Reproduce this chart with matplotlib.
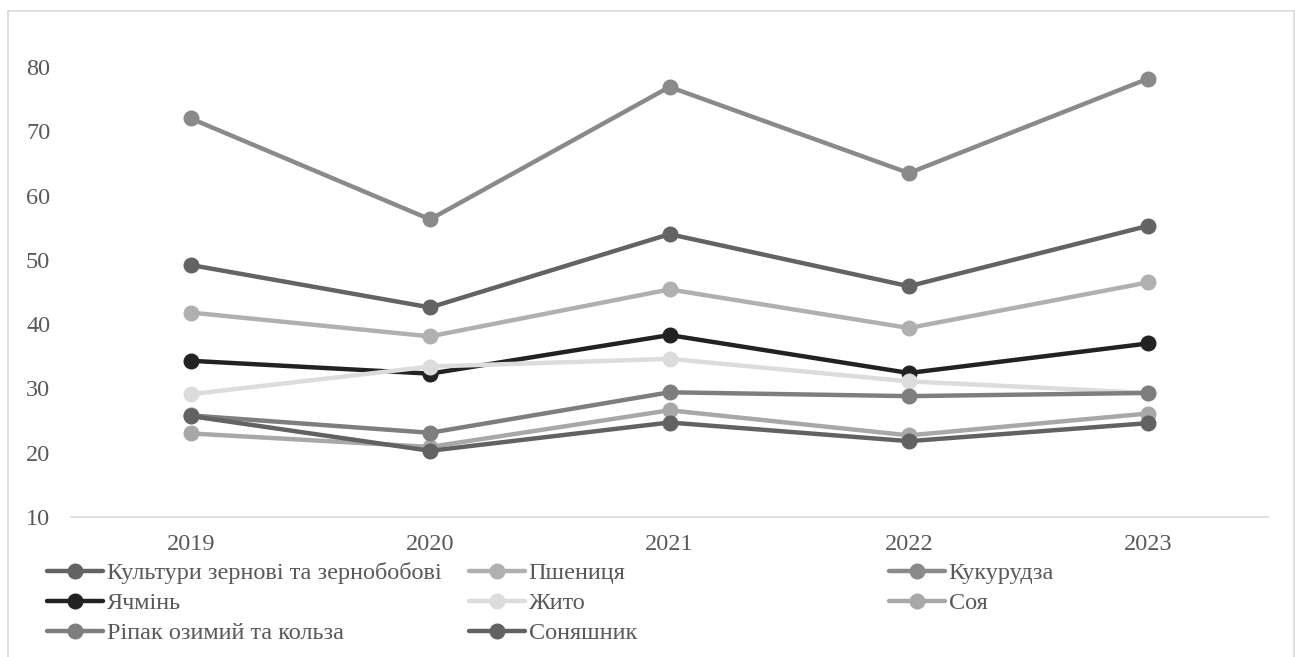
import matplotlib.pyplot as plt
from matplotlib.patches import Rectangle

# ================= data =================
years = ["2019", "2020", "2021", "2022", "2023"]

zernovi = [49.2, 42.6, 54.0, 45.9, 55.3]
pshenytsia = [41.8, 38.1, 45.4, 39.4, 46.5]
kukurudza = [72.0, 56.3, 76.9, 63.5, 78.2]
yachmin = [34.3, 32.3, 38.3, 32.4, 37.0]
zhyto = [29.1, 33.4, 34.6, 31.1, 29.3]
soya = [23.0, 20.9, 26.6, 22.7, 26.1]
ripak = [25.8, 23.1, 29.4, 28.8, 29.3]
soniashnyk = [25.7, 20.3, 24.7, 21.8, 24.6]

labels = ["Культури зернові та зернобобові", "Пшениця", "Кукурудза",
          "Ячмінь", "Жито", "Соя", "Ріпак озимий та кольза", "Соняшник"]
series = [zernovi, pshenytsia, kukurudza, yachmin, zhyto, soya, ripak, soniashnyk]
colors = ["#636363", "#b0b0b0", "#8a8a8a", "#222222", "#dcdcdc", "#a8a8a8", "#7e7e7e", "#626262"]
# ========================================

plt.rcParams['font.family'] = ['Liberation Serif', 'DejaVu Serif']
FS = 17.5
TXT = "#595959"

fig = plt.figure(figsize=(12.95, 6.57), dpi=100)
ax = fig.add_axes([71 / 1295, 140 / 657, 1197 / 1295, 495 / 657])

x = list(range(len(years)))
handles = []
for vals, lab, col in zip(series, labels, colors):
    h, = ax.plot(x, vals, color=col, lw=3.2, marker='o', markersize=10.5,
                 solid_capstyle='round', label=lab)
    handles.append(h)

ax.set_xlim(-0.5, len(years) - 0.5)
ax.set_ylim(10, 87)
ax.set_yticks(range(10, 81, 10))
ax.set_xticks(x)
ax.set_xticklabels(years)
ax.tick_params(axis='both', length=0, labelsize=FS, labelcolor=TXT)
ax.tick_params(axis='y', pad=15)
ax.tick_params(axis='x', pad=12)
for s in ['top', 'right', 'left']:
    ax.spines[s].set_visible(False)
ax.spines['bottom'].set_color('#d9d9d9')
ax.spines['bottom'].set_linewidth(1.2)

# legend: three columns of equal width, like Excel
cols = [[0, 3, 6], [1, 4, 7], [2, 5]]
col_x = [47 / 1295, 469 / 1295, 889 / 1295]
for cx, idx in zip(col_x, cols):
    leg = fig.legend([handles[i] for i in idx], [labels[i] for i in idx],
                     loc='upper left', bbox_to_anchor=(cx, 1 - 562 / 657),
                     frameon=False, fontsize=FS, handlelength=2.3,
                     handletextpad=0.15, labelspacing=0.33, borderpad=0,
                     borderaxespad=0)
    for t in leg.get_texts():
        t.set_color(TXT)

fig.patches.append(Rectangle((8 / 1295, -0.01), 1286 / 1295, 1 - 11 / 657 + 0.01,
                             transform=fig.transFigure, fill=False,
                             edgecolor='#d9d9d9', lw=1.2))

fig.savefig("out.png", dpi=100, facecolor='white')
